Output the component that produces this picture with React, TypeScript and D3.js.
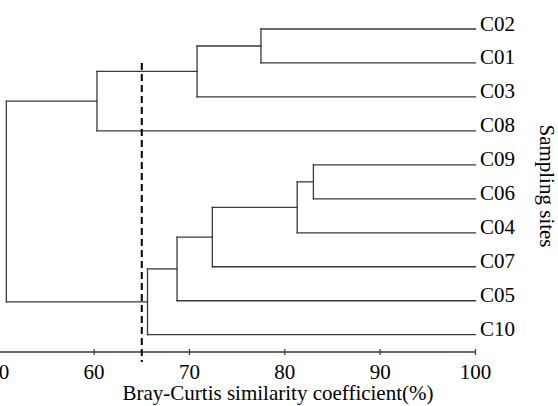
import React, { useEffect, useRef } from 'react';
import * as d3 from 'd3';

// leaf order, top to bottom
const leaves = ['C02', 'C01', 'C03', 'C08', 'C09', 'C06', 'C04', 'C07', 'C05', 'C10'];

// agglomeration steps: each cluster joins a left and right member at a similarity (%)
const clusterIds = ['k1', 'k2', 'k3', 'k4', 'k5', 'k6', 'k7', 'k8', 'k9'];
const clusterLeft = ['C02', 'k1', 'k2', 'C09', 'k4', 'k5', 'k6', 'k7', 'k3'];
const clusterRight = ['C01', 'C03', 'C08', 'C06', 'C04', 'C07', 'C05', 'C10', 'k8'];
const clusterSimilarity = [77.5, 70.8, 60.3, 83.0, 81.3, 72.4, 68.7, 65.6, 50.8];

const cutoff = 65;
const xTicks = [50, 60, 70, 80, 90, 100];

const width = 558;
const height = 406;
const font = '"Times New Roman", "Liberation Serif", serif';

type TreeNode = { name: string; sim: number; children?: TreeNode[] };

function buildTree(id: string): TreeNode {
	const i = clusterIds.indexOf(id);
	if (i < 0) return { name: id, sim: 100 };
	return {
		name: id,
		sim: clusterSimilarity[i],
		children: [buildTree(clusterLeft[i]), buildTree(clusterRight[i])],
	};
}

export default function App() {
	const ref = useRef<SVGSVGElement>(null);

	useEffect(() => {
		const svg = d3.select(ref.current);
		svg.selectAll('*').remove();

		const xScale = d3.scaleLinear().domain([50, 100]).range([-1.25, 475.5]);
		const yScale = d3.scalePoint<string>().domain(leaves).range([29, 334.7]);
		const axisY = 352;

		const root = d3.hierarchy<TreeNode>(buildTree(clusterIds[clusterIds.length - 1]));
		// leaves get their row, internal nodes the mean of their children
		root.eachAfter((n: any) => {
			if (n.children) n.y = d3.mean(n.children, (c: any) => c.y);
			else n.y = yScale(n.data.name);
			n.x = xScale(n.data.sim);
		});

		const g = svg.append('g');

		// elbow links
		const segs: [number, number, number, number][] = [];
		root.each((n: any) => {
			if (!n.children) return;
			const ys = n.children.map((c: any) => c.y);
			segs.push([n.x, d3.min(ys) as number, n.x, d3.max(ys) as number]);
			n.children.forEach((c: any) => segs.push([n.x, c.y, c.x, c.y]));
		});
		g.selectAll('line.branch')
			.data(segs)
			.enter()
			.append('line')
			.attr('class', 'branch')
			.attr('x1', d => d[0])
			.attr('y1', d => d[1])
			.attr('x2', d => d[2])
			.attr('y2', d => d[3])
			.attr('stroke', '#3a3a3a')
			.attr('stroke-width', 1.3)
			.attr('stroke-linecap', 'square');

		// leaf labels
		g.selectAll('text.leaf')
			.data(leaves)
			.enter()
			.append('text')
			.attr('class', 'leaf')
			.attr('x', xScale(100) + 4.5)
			.attr('y', d => (yScale(d) as number) + 1.5)
			.attr('font-family', font)
			.attr('font-size', 21)
			.attr('fill', '#000')
			.text(d => d);

		// x axis
		const axis = g.append('g').attr('transform', `translate(0,${axisY})`);
		axis.append('line')
			.attr('x1', xScale(50))
			.attr('x2', xScale(100))
			.attr('stroke', '#3a3a3a')
			.attr('stroke-width', 1.3);
		axis.selectAll('line.tick')
			.data(xTicks)
			.enter()
			.append('line')
			.attr('class', 'tick')
			.attr('x1', d => xScale(d))
			.attr('x2', d => xScale(d))
			.attr('y1', -3)
			.attr('y2', 3)
			.attr('stroke', '#3a3a3a')
			.attr('stroke-width', 1.2);
		axis.selectAll('text.tick')
			.data(xTicks)
			.enter()
			.append('text')
			.attr('class', 'tick')
			.attr('x', d => xScale(d))
			.attr('y', 27)
			.attr('text-anchor', 'middle')
			.attr('font-family', font)
			.attr('font-size', 21)
			.text(d => d);
		axis.append('text')
			.attr('x', 278)
			.attr('y', 48)
			.attr('text-anchor', 'middle')
			.attr('font-family', font)
			.attr('font-size', 21)
			.text('Bray-Curtis similarity coefficient(%)');

		// y title
		g.append('text')
			.attr('transform', 'translate(540,186) rotate(90)')
			.attr('text-anchor', 'middle')
			.attr('font-family', font)
			.attr('font-size', 21)
			.text('Sampling sites');

		// cutoff line
		g.append('line')
			.attr('x1', xScale(cutoff))
			.attr('x2', xScale(cutoff))
			.attr('y1', 63)
			.attr('y2', 362)
			.attr('stroke', '#000')
			.attr('stroke-width', 2)
			.attr('stroke-dasharray', '7,4');
	}, []);

	return (
		<svg
			ref={ref}
			width={width}
			height={height}
			style={{ position: 'absolute', left: 0, top: 0, background: '#fff' }}
		/>
	);
}
